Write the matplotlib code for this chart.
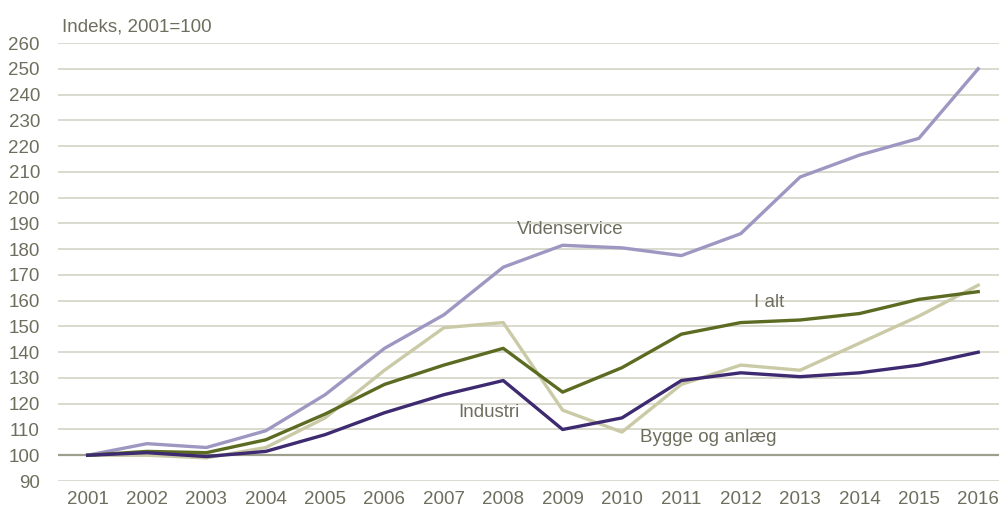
import matplotlib.pyplot as plt
import numpy as np

plt.rcParams['font.family'] = ['Liberation Sans Narrow', 'Liberation Sans', 'DejaVu Sans']

years = list(range(2001, 2017))
videnservice = [100, 104.5, 103, 109.5, 123.5, 141.5, 154.5, 173, 181.5, 180.5, 177.5, 186, 208, 216.5, 223, 250]
i_alt = [100, 101.5, 101, 106, 116, 127.5, 135, 141.5, 124.5, 134, 147, 151.5, 152.5, 155, 160.5, 163.5]
bygge = [100, 100, 99, 103, 114.5, 133, 149.5, 151.5, 117.5, 109, 127.5, 135, 133, 143.5, 154, 166]
industri = [100, 101, 99.5, 101.5, 108, 116.5, 123.5, 129, 110, 114.5, 129, 132, 130.5, 132, 135, 140]

txt = '#6e6e5e'
grid = '#cfcfc0'

fig = plt.figure(figsize=(9.99, 5.16), dpi=100)
ax = fig.add_axes([0.058, 0.0678, 0.942, 0.8488])

ax.set_xlim(2000.5, 2016.35)
ax.set_ylim(90, 260)
yt = np.arange(90, 261, 10)
ax.set_yticks(yt)
ax.set_xticks(years)
for v in yt:
    if v == 100:
        ax.axhline(v, color='#9e9e8c', lw=1.6, zorder=1)
    else:
        ax.axhline(v, color=grid, lw=1.1, zorder=1)

ax.plot(years, videnservice, color='#9d97c2', lw=2.4, zorder=3)
ax.plot(years, bygge, color='#cacaa6', lw=2.4, zorder=3)
ax.plot(years, i_alt, color='#5b6b22', lw=2.4, zorder=4)
ax.plot(years, industri, color='#3d2a70', lw=2.4, zorder=5)

for s in ax.spines.values():
    s.set_visible(False)
ax.tick_params(length=0, labelsize=13.5, colors=txt)
ax.tick_params(axis='y', pad=13)
ax.tick_params(axis='x', pad=7)

ax.text(2009.13, 187.5, 'Videnservice', color=txt, fontsize=13.5, ha='center', va='center')
ax.text(2012.47, 159.3, 'I alt', color=txt, fontsize=13.5, ha='center', va='center')
ax.text(2007.76, 116.7, 'Industri', color=txt, fontsize=13.5, ha='center', va='center')
ax.text(2011.46, 107, 'Bygge og anlæg', color=txt, fontsize=13.5, ha='center', va='center')

fig.text(62 / 999, 1 - 27 / 516, 'Indeks, 2001=100', color=txt, fontsize=13.5, ha='left', va='center')

fig.savefig('out.png', dpi=100)
